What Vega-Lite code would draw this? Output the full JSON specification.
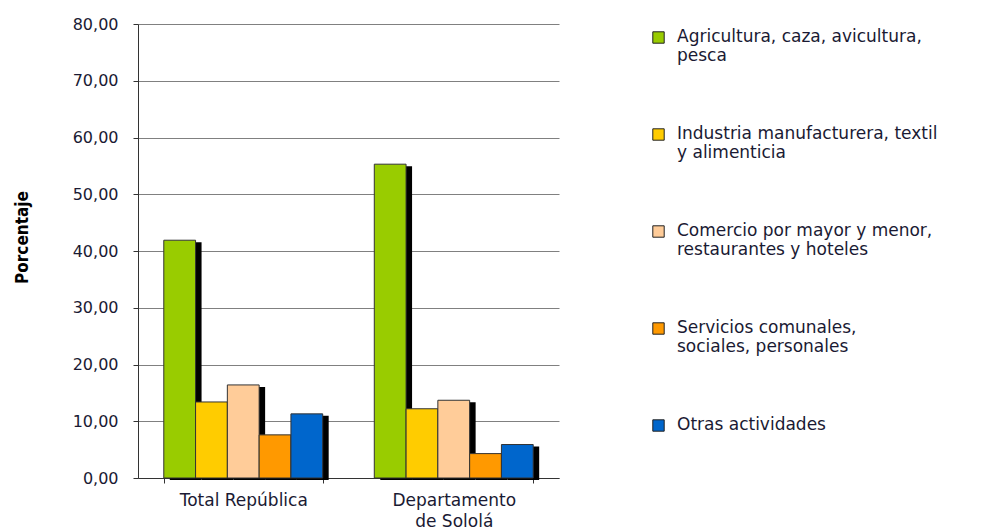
{
  "$schema": "https://vega.github.io/schema/vega-lite/v6.json",
  "width": 421,
  "height": 454,
  "autosize": "none",
  "padding": {"left": 138, "top": 24, "right": 431, "bottom": 53},
  "background": "white",
  "config": {"view": {"stroke": null}},
  "data": {
    "values": [
      {"grupo": "Total República", "sector": "Agricultura, caza, avicultura, pesca", "valor": 41.9},
      {"grupo": "Total República", "sector": "Industria manufacturera, textil y alimenticia", "valor": 13.4},
      {"grupo": "Total República", "sector": "Comercio por mayor y menor, restaurantes y hoteles", "valor": 16.4},
      {"grupo": "Total República", "sector": "Servicios comunales, sociales, personales", "valor": 7.6},
      {"grupo": "Total República", "sector": "Otras actividades", "valor": 11.3},
      {"grupo": "Departamento de Sololá", "sector": "Agricultura, caza, avicultura, pesca", "valor": 55.3},
      {"grupo": "Departamento de Sololá", "sector": "Industria manufacturera, textil y alimenticia", "valor": 12.2},
      {"grupo": "Departamento de Sololá", "sector": "Comercio por mayor y menor, restaurantes y hoteles", "valor": 13.7},
      {"grupo": "Departamento de Sololá", "sector": "Servicios comunales, sociales, personales", "valor": 4.3},
      {"grupo": "Departamento de Sololá", "sector": "Otras actividades", "valor": 5.9}
    ]
  },
  "encoding": {
    "x": {
      "field": "grupo",
      "type": "nominal",
      "sort": ["Total República", "Departamento de Sololá"],
      "scale": {"paddingInner": 0.245, "paddingOuter": 0.1225},
      "axis": {
        "title": null,
        "labelAngle": 0,
        "tickBand": "extent",
        "tickSize": 5,
        "tickColor": "#333",
        "domainColor": "#333",
        "labelFont": "DejaVu Sans",
        "labelFontSize": 17,
        "labelColor": "#1a1a33",
        "labelPadding": 9,
        "labelBaseline": "top",
        "labelLineHeight": 21,
        "labelExpr": "datum.label == 'Departamento de Sololá' ? ['Departamento', 'de Sololá'] : datum.label"
      }
    },
    "y": {
      "field": "valor",
      "type": "quantitative",
      "scale": {"domain": [0, 80], "nice": false},
      "axis": {
        "title": "Porcentaje",
        "titleFont": "Liberation Sans Narrow, DejaVu Sans Condensed, sans-serif",
        "titleFontSize": 17,
        "titleFontWeight": "bold",
        "titleColor": "#000",
        "titleX": -107,
        "titleY": 213,
        "values": [0, 10, 20, 30, 40, 50, 60, 70, 80],
        "labelExpr": "replace(format(datum.value, '.2f'), '.', ',')",
        "labelFont": "DejaVu Sans",
        "labelFontSize": 16,
        "labelColor": "#1a1a33",
        "labelPadding": 15,
        "tickSize": 5,
        "tickColor": "#333",
        "domainColor": "#333",
        "grid": true,
        "gridColor": "#808080",
        "gridWidth": 1
      }
    }
  },
  "layer": [
    {
      "mark": {"type": "bar", "color": "#000", "yOffset": 2, "y2Offset": 0.001},
      "encoding": {
        "xOffset": {
          "field": "sector",
          "sort": ["Agricultura, caza, avicultura, pesca", "Industria manufacturera, textil y alimenticia", "Comercio por mayor y menor, restaurantes y hoteles", "Servicios comunales, sociales, personales", "Otras actividades"],
          "scale": {"range": [6, 164.9], "paddingInner": 0, "paddingOuter": 0}
        }
      }
    },
    {
      "mark": {"type": "bar", "stroke": "#333", "strokeWidth": 1, "opacity": 1},
      "encoding": {
        "xOffset": {
          "field": "sector",
          "sort": ["Agricultura, caza, avicultura, pesca", "Industria manufacturera, textil y alimenticia", "Comercio por mayor y menor, restaurantes y hoteles", "Servicios comunales, sociales, personales", "Otras actividades"],
          "scale": {"paddingInner": 0, "paddingOuter": 0}
        },
        "color": {
          "field": "sector",
          "type": "nominal",
          "sort": ["Agricultura, caza, avicultura, pesca", "Industria manufacturera, textil y alimenticia", "Comercio por mayor y menor, restaurantes y hoteles", "Servicios comunales, sociales, personales", "Otras actividades"],
          "scale": {
            "domain": ["Agricultura, caza, avicultura, pesca", "Industria manufacturera, textil y alimenticia", "Comercio por mayor y menor, restaurantes y hoteles", "Servicios comunales, sociales, personales", "Otras actividades"],
            "range": ["#99cc00", "#ffcc00", "#ffcc99", "#ff9900", "#0066cc"]
          },
          "legend": {
            "title": null,
            "orient": "none",
            "legendX": 512,
            "legendY": 5,
            "padding": 0,
            "symbolType": "square",
            "symbolSize": 130,
            "symbolStrokeColor": "#222",
            "symbolStrokeWidth": 1,
            "symbolOpacity": 1,
            "labelFont": "DejaVu Sans",
            "labelFontSize": 17,
            "labelColor": "#1a1a33",
            "labelLineHeight": 21,
            "labelBaseline": "alphabetic",
            "labelOffset": 10,
            "labelLimit": 400,
            "rowPadding": 60,
            "labelExpr": "datum.label == 'Agricultura, caza, avicultura, pesca' ? ['Agricultura, caza, avicultura,', 'pesca'] : datum.label == 'Industria manufacturera, textil y alimenticia' ? ['Industria manufacturera, textil', 'y alimenticia'] : datum.label == 'Comercio por mayor y menor, restaurantes y hoteles' ? ['Comercio por mayor y menor,', 'restaurantes y hoteles'] : datum.label == 'Servicios comunales, sociales, personales' ? ['Servicios comunales,', 'sociales, personales'] : datum.label",
            "encode": {"labels": {"update": {"dy": {"value": 4}}}}
          }
        }
      }
    }
  ],
  "resolve": {"scale": {"xOffset": "independent"}}
}
